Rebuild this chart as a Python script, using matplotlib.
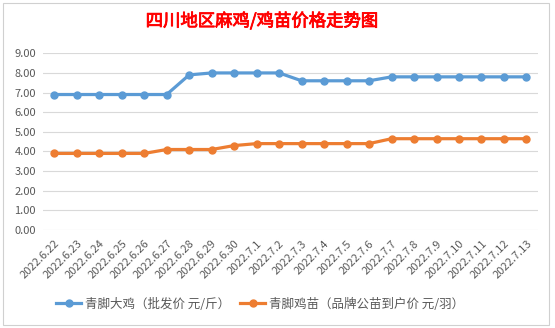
import matplotlib.pyplot as plt
from matplotlib.patches import Rectangle

plt.rcParams['font.family'] = ['Noto Sans CJK SC', 'DejaVu Sans']

fechas = ['2022.6.22', '2022.6.23', '2022.6.24', '2022.6.25', '2022.6.26', '2022.6.27',
          '2022.6.28', '2022.6.29', '2022.6.30', '2022.7.1', '2022.7.2', '2022.7.3',
          '2022.7.4', '2022.7.5', '2022.7.6', '2022.7.7', '2022.7.8', '2022.7.9',
          '2022.7.10', '2022.7.11', '2022.7.12', '2022.7.13']
da_ji = [6.9, 6.9, 6.9, 6.9, 6.9, 6.9, 7.9, 8.0, 8.0, 8.0, 8.0, 7.6,
         7.6, 7.6, 7.6, 7.8, 7.8, 7.8, 7.8, 7.8, 7.8, 7.8]
ji_miao = [3.9, 3.9, 3.9, 3.9, 3.9, 4.1, 4.1, 4.1, 4.3, 4.4, 4.4, 4.4,
           4.4, 4.4, 4.4, 4.65, 4.65, 4.65, 4.65, 4.65, 4.65, 4.65]
serie_1 = '青脚大鸡（批发价 元/斤）'
serie_2 = '青脚鸡苗（品牌公苗到户价 元/羽）'
yticks = [0, 1, 2, 3, 4, 5, 6, 7, 8, 9]

W, H = 555, 328
fig = plt.figure(figsize=(W / 100, H / 100), dpi=100)
ax = fig.add_axes([43 / W, 1 - 230 / H, (537.7 - 43) / W, (230 - 53.3) / H])

# borde del area del grafico
fig.patches.append(Rectangle((3 / W, 3 / H), 546 / W, 322 / H, transform=fig.transFigure,
                             fill=False, edgecolor='#D0D0D0', linewidth=0.8))

x = list(range(len(fechas)))
ax.plot(x, da_ji, color='#5B9BD5', linewidth=2.3, marker='o', markersize=5, label=serie_1)
ax.plot(x, ji_miao, color='#ED7D31', linewidth=2.3, marker='o', markersize=5, label=serie_2)

ax.set_xlim(-0.5, len(fechas) - 0.5)
ax.set_ylim(0, 9)
ax.set_yticks(yticks)
ax.set_yticklabels([f'{v:.2f}' for v in yticks])
ax.set_xticks(x)
ax.set_xticklabels(fechas, rotation=45, ha='right', va='top', rotation_mode='anchor')
ax.tick_params(axis='both', length=0, labelsize=8, labelcolor='#595959')
ax.tick_params(axis='y', pad=5)
ax.tick_params(axis='x', pad=6)
ax.grid(axis='y', color='#D9D9D9', linewidth=0.8)
ax.set_axisbelow(True)
for s in ax.spines.values():
    s.set_visible(False)

# titulo: trazo normal con un contorno fino para engrosarlo un poco
import matplotlib.patheffects as pe
fig.text(262 / W, 1 - 21 / H, '四川地区麻鸡/鸡苗价格走势图', color='#FF0000', fontsize=12.5,
         ha='center', va='center',
         path_effects=[pe.withStroke(linewidth=0.6, foreground='#FF0000')])

fig.legend(loc='center', bbox_to_anchor=(260 / W, 1 - 304 / H), ncol=2, frameon=False,
           fontsize=9, labelcolor='#595959', handlelength=2.0, columnspacing=0.8,
           handletextpad=0.3)

fig.savefig('out.png', dpi=100)
